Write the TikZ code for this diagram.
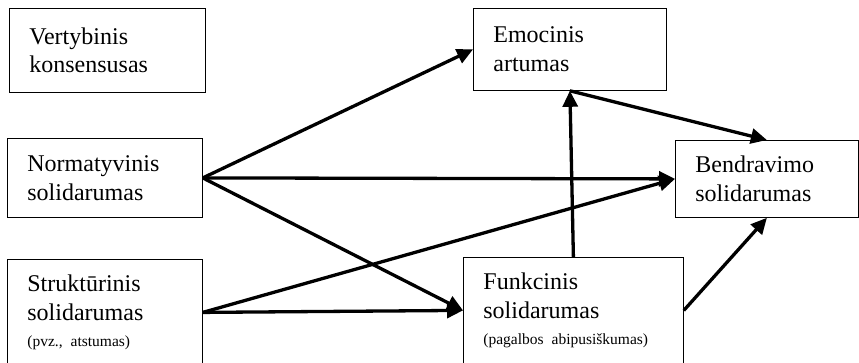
\documentclass[tikz,border=0pt]{standalone}
\usepackage{fontspec}
\setmainfont{Liberation Serif}
\usetikzlibrary{arrows.meta, positioning}
\frenchspacing

\begin{document}
\begin{tikzpicture}[x=1pt, y=-1pt,
    factor/.style={draw, line width=0.8pt, anchor=north west, align=left,
      inner xsep=20pt, inner ysep=0pt, font=\fontsize{24}{28.6}\selectfont},
    link/.style={-{Triangle[length=16pt, width=15pt]}, line width=3.3pt}]

        \useasboundingbox (0,0) rectangle (859,362);

        \node [factor, minimum width=196pt, minimum height=84pt, text width=156pt]
          (vert) at (9,8) {Vertybinis\\konsensusas};
        \node [factor, minimum width=195pt, minimum height=79pt, text width=155pt]
          (norm) at (7,138) {Normatyvinis\\solidarumas};
        \node [factor, minimum width=195pt, minimum height=106pt, text width=155pt]
          (strukt) at (7,259) {Strukt\=urinis\\solidarumas\\[-3pt]
          {\fontsize{15.5}{18}\selectfont (pvz., atstumas)}};
        \node [factor, minimum width=193pt, minimum height=82pt, text width=153pt]
          (emoc) at (473,8) {Emocinis\\artumas};
        \node [factor, minimum width=183pt, minimum height=77pt, text width=143pt]
          (bendr) at (675,140) {Bendravimo\\solidarumas};
        \node [factor, minimum width=220pt, minimum height=106pt, text width=180pt]
          (funk) at (463,257) {Funkcinis\\solidarumas\\[-3pt]
          {\fontsize{15.5}{18}\selectfont (pagalbos abipusiškumas)}};

        \foreach \s/\t in {norm.east/emoc.west, norm.east/bendr.west,
          norm.east/funk.west, strukt.east/bendr.west, strukt.east/funk.west,
          funk.north/emoc.south, emoc.south/bendr.north, funk.east/bendr.south}
        \draw [link] (\s) -- (\t);

\end{tikzpicture}
\end{document}
